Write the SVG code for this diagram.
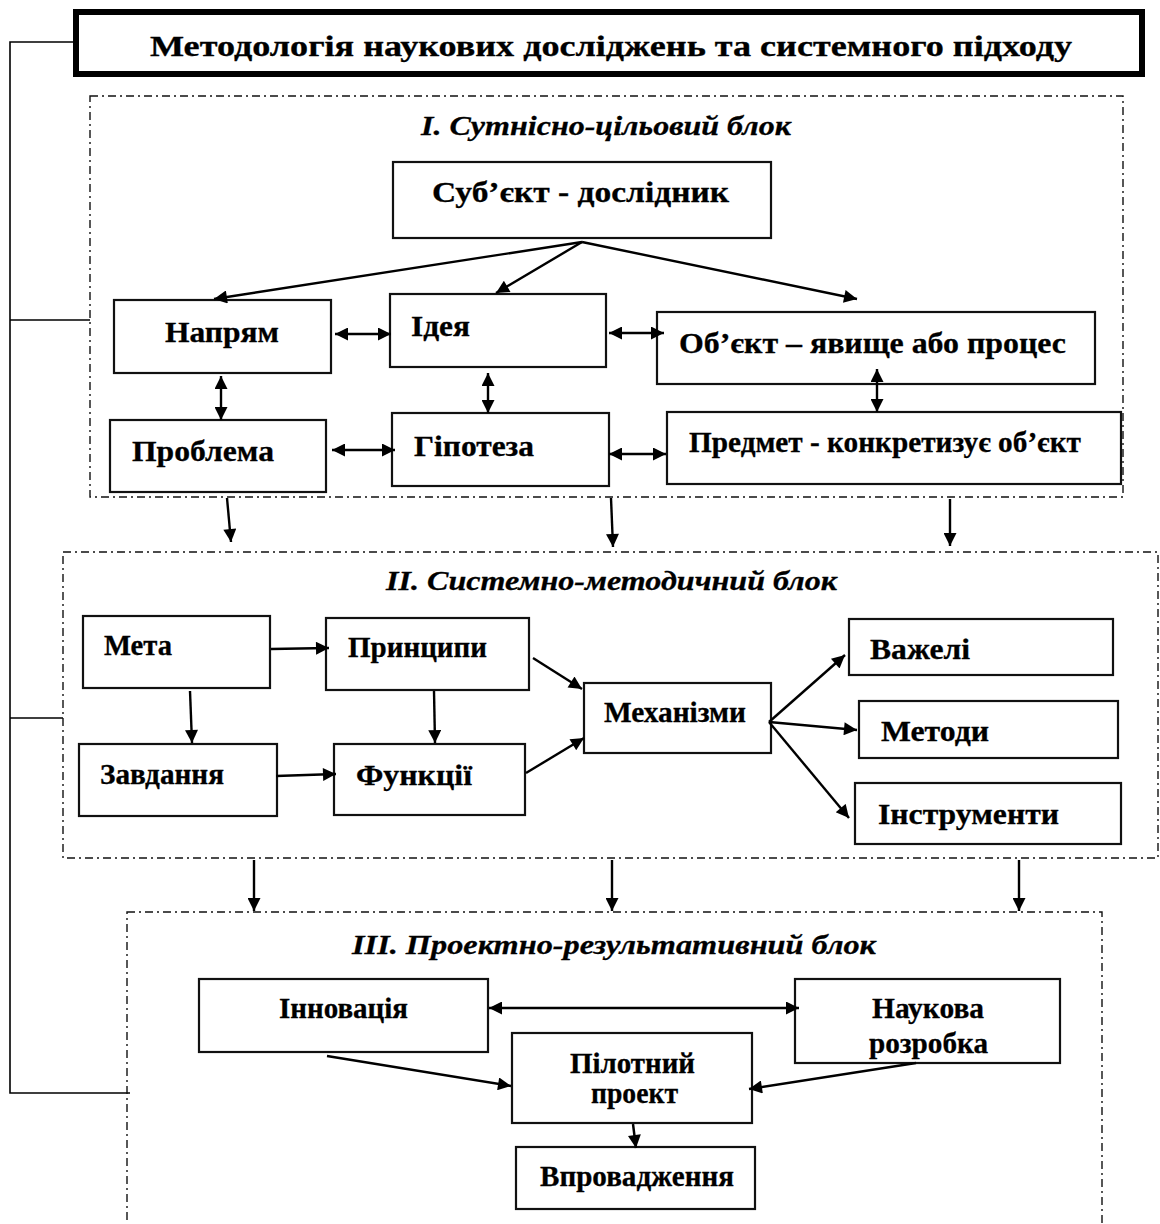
<svg xmlns="http://www.w3.org/2000/svg" width="1160" height="1224" viewBox="0 0 1160 1224">
<style>
.bg{fill:#fff}
.box{fill:#fff;stroke:#111;stroke-width:2.2}
.blk{fill:none;stroke:#111;stroke-width:1.4;stroke-dasharray:8 4 2 4}
.t{font-family:"Liberation Serif","Times New Roman",serif;font-weight:bold;font-size:29px;fill:#000;stroke:#000;stroke-width:0.3}
.ti{font-family:"Liberation Serif","Times New Roman",serif;font-weight:bold;font-style:italic;font-size:28px;fill:#000;stroke:#000;stroke-width:0.3}
.ln{fill:none;stroke:#000;stroke-width:2.4}
.br{fill:none;stroke:#000;stroke-width:1.6}
</style>
<defs>
<marker id="ah" viewBox="0 0 10 10" refX="10" refY="5" markerWidth="15" markerHeight="13" markerUnits="userSpaceOnUse" orient="auto-start-reverse">
<path d="M0,0 L10,5 L0,10 z" fill="#000"/>
</marker>
</defs>
<rect class="bg" x="0" y="0" width="1160" height="1224"/>

<g id="bracket">
<path class="br" d="M73,42 H10 V1093 H130 M10,320 H90 M10,718 H63"/>
</g>

<g id="title">
<rect x="76" y="12" width="1066" height="62" fill="#fff" stroke="#000" stroke-width="6"/>
<text class="t" x="150" y="56" font-size="32" textLength="922" lengthAdjust="spacingAndGlyphs">Методологія наукових досліджень та системного підходу</text>
</g>

<g id="block1">
<rect class="blk" x="90" y="96" width="1033" height="401"/>
<text class="ti" x="421" y="135" textLength="370" lengthAdjust="spacingAndGlyphs">I. Сутнісно-цільовий блок</text>
</g>
<g id="subject"><rect class="box" x="393" y="162" width="378" height="76"/><text class="t" x="432" y="202" textLength="297" lengthAdjust="spacingAndGlyphs">Суб’єкт -  дослідник</text></g>
<g id="napriam"><rect class="box" x="114" y="300" width="217" height="73"/><text class="t" x="165" y="342" textLength="114" lengthAdjust="spacingAndGlyphs">Напрям</text></g>
<g id="ideia"><rect class="box" x="390" y="294" width="216" height="73"/><text class="t" x="411" y="336" textLength="59" lengthAdjust="spacingAndGlyphs">Ідея</text></g>
<g id="obiekt"><rect class="box" x="657" y="312" width="438" height="72"/><text class="t" x="679" y="353" textLength="387" lengthAdjust="spacingAndGlyphs">Об’єкт – явище або процес</text></g>
<g id="problema"><rect class="box" x="110" y="420" width="216" height="72"/><text class="t" x="132" y="461" textLength="142" lengthAdjust="spacingAndGlyphs">Проблема</text></g>
<g id="hipoteza"><rect class="box" x="392" y="413" width="217" height="73"/><text class="t" x="414" y="456" textLength="120" lengthAdjust="spacingAndGlyphs">Гіпотеза</text></g>
<g id="predmet"><rect class="box" x="667" y="412" width="454" height="72"/><text class="t" x="689" y="452" font-size="26" textLength="392" lengthAdjust="spacingAndGlyphs">Предмет - конкретизує об’єкт</text></g>

<g id="block2">
<rect class="blk" x="63" y="552" width="1095" height="306"/>
<text class="ti" x="386" y="590" textLength="451" lengthAdjust="spacingAndGlyphs">II. Системно-методичний блок</text>
</g>
<g id="meta"><rect class="box" x="83" y="616" width="187" height="72"/><text class="t" x="104" y="655" textLength="68" lengthAdjust="spacingAndGlyphs">Мета</text></g>
<g id="pryntsypy"><rect class="box" x="326" y="618" width="203" height="72"/><text class="t" x="348" y="657" textLength="139" lengthAdjust="spacingAndGlyphs">Принципи</text></g>
<g id="zavdannia"><rect class="box" x="79" y="744" width="198" height="72"/><text class="t" x="100" y="784" textLength="124" lengthAdjust="spacingAndGlyphs">Завдання</text></g>
<g id="funktsii"><rect class="box" x="334" y="744" width="191" height="71"/><text class="t" x="356" y="785" textLength="116" lengthAdjust="spacingAndGlyphs">Функції</text></g>
<g id="mekhanizmy"><rect class="box" x="584" y="683" width="187" height="70"/><text class="t" x="604" y="722" textLength="142" lengthAdjust="spacingAndGlyphs">Механізми</text></g>
<g id="vazheli"><rect class="box" x="849" y="619" width="264" height="56"/><text class="t" x="870" y="659" textLength="100" lengthAdjust="spacingAndGlyphs">Важелі</text></g>
<g id="metody"><rect class="box" x="859" y="701" width="259" height="57"/><text class="t" x="881" y="741" textLength="108" lengthAdjust="spacingAndGlyphs">Методи</text></g>
<g id="instrumenty"><rect class="box" x="855" y="783" width="266" height="61"/><text class="t" x="878" y="824" textLength="181" lengthAdjust="spacingAndGlyphs">Інструменти</text></g>

<g id="block3">
<rect class="blk" x="127" y="912" width="975" height="340"/>
<text class="ti" x="352" y="954" textLength="524" lengthAdjust="spacingAndGlyphs">III. Проектно-результативний блок</text>
</g>
<g id="innovatsiia"><rect class="box" x="199" y="979" width="289" height="73"/><text class="t" x="279" y="1018" textLength="129" lengthAdjust="spacingAndGlyphs">Інновація</text></g>
<g id="naukova"><rect class="box" x="795" y="979" width="265" height="84"/><text class="t" x="872" y="1018" textLength="112" lengthAdjust="spacingAndGlyphs">Наукова</text><text class="t" x="869" y="1053" textLength="119" lengthAdjust="spacingAndGlyphs">розробка</text></g>
<g id="pilotnyi"><rect class="box" x="512" y="1033" width="240" height="90"/><text class="t" x="570" y="1073" textLength="125" lengthAdjust="spacingAndGlyphs">Пілотний</text><text class="t" x="591" y="1103" textLength="87" lengthAdjust="spacingAndGlyphs">проект</text></g>
<g id="vprovadzhennia"><rect class="box" x="516" y="1147" width="239" height="62"/><text class="t" x="540" y="1186" textLength="194" lengthAdjust="spacingAndGlyphs">Впровадження</text></g>

<g id="connectors">
<path class="ln" marker-end="url(#ah)" d="M582,242 L214,299"/>
<path class="ln" marker-end="url(#ah)" d="M582,242 L496,293"/>
<path class="ln" marker-end="url(#ah)" d="M582,242 L857,299"/>
<path class="ln" marker-start="url(#ah)" marker-end="url(#ah)" d="M335,334 L391,334"/>
<path class="ln" marker-start="url(#ah)" marker-end="url(#ah)" d="M609,333 L664,333"/>
<path class="ln" marker-start="url(#ah)" marker-end="url(#ah)" d="M221,376 L221,420"/>
<path class="ln" marker-start="url(#ah)" marker-end="url(#ah)" d="M488,373 L488,413"/>
<path class="ln" marker-start="url(#ah)" marker-end="url(#ah)" d="M877,369 L877,412"/>
<path class="ln" marker-start="url(#ah)" marker-end="url(#ah)" d="M332,450 L395,450"/>
<path class="ln" marker-start="url(#ah)" marker-end="url(#ah)" d="M609,454 L666,454"/>

<path class="ln" marker-end="url(#ah)" d="M227,498 L231,542"/>
<path class="ln" marker-end="url(#ah)" d="M611,498 L613,547"/>
<path class="ln" marker-end="url(#ah)" d="M950,499 L950,546"/>

<path class="ln" marker-end="url(#ah)" d="M271,649 L329,648"/>
<path class="ln" marker-end="url(#ah)" d="M190,691 L192,743"/>
<path class="ln" marker-end="url(#ah)" d="M434,691 L435,743"/>
<path class="ln" marker-end="url(#ah)" d="M276,776 L336,774"/>
<path class="ln" marker-end="url(#ah)" d="M533,658 L582,689"/>
<path class="ln" marker-end="url(#ah)" d="M526,773 L584,738"/>
<path class="ln" marker-end="url(#ah)" d="M769,722 L845,655"/>
<path class="ln" marker-end="url(#ah)" d="M769,722 L857,730"/>
<path class="ln" marker-end="url(#ah)" d="M769,722 L849,818"/>

<path class="ln" marker-end="url(#ah)" d="M254,860 L254,911"/>
<path class="ln" marker-end="url(#ah)" d="M612,860 L612,911"/>
<path class="ln" marker-end="url(#ah)" d="M1019,860 L1019,911"/>

<path class="ln" marker-start="url(#ah)" marker-end="url(#ah)" d="M489,1008 L799,1008"/>
<path class="ln" marker-end="url(#ah)" d="M327,1056 L511,1086"/>
<path class="ln" marker-end="url(#ah)" d="M916,1063 L749,1089"/>
<path class="ln" marker-end="url(#ah)" d="M633,1124 L636,1148"/>
</g>
</svg>
